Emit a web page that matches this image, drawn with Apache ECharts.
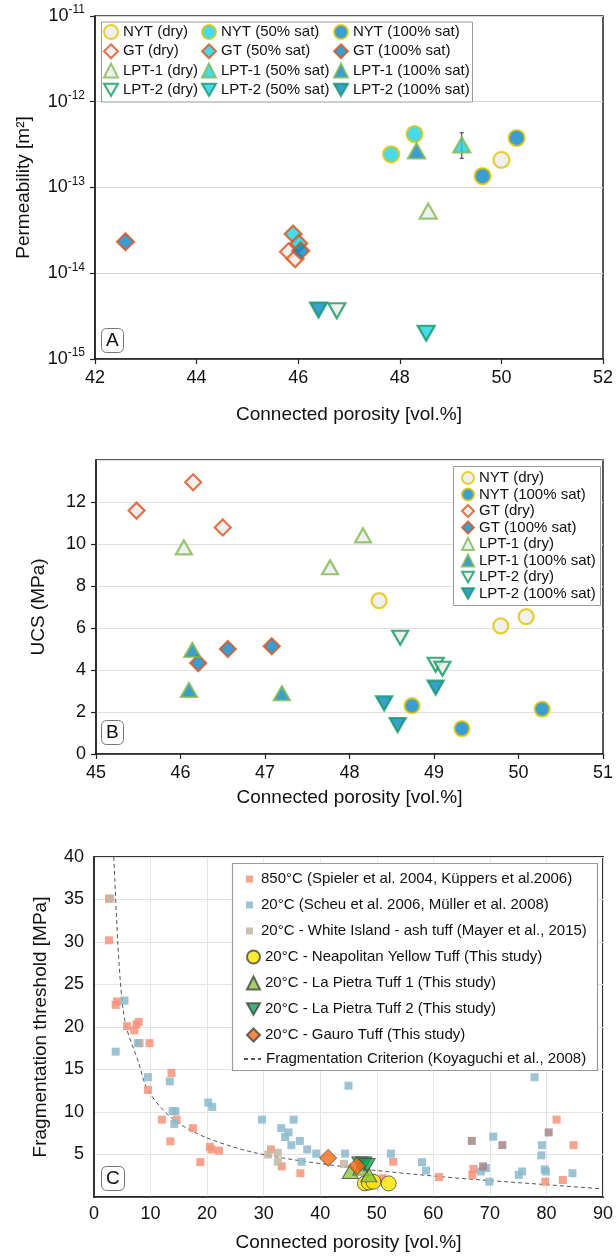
<!DOCTYPE html>
<html>
<head>
<meta charset="utf-8">
<script src="https://cdn.jsdelivr.net/npm/echarts@6/dist/echarts.min.js"></script>
<style>
  html, body { margin: 0; padding: 0; background: #fff; }
  #chart { width: 616px; height: 1258px; }
</style>
</head>
<body>
<div id="chart"></div>
<script>
// ---- panel A : permeability vs porosity ----
const aNytDry = [[50.0, 2.1e-13]];
const aNyt50 = [[47.83, 2.44e-13], [48.29, 4.2e-13]];
const aNyt100 = [[49.63, 1.36e-13], [50.30, 3.78e-13]];
const aGtDry = [[45.81, 1.78e-14], [45.94, 1.48e-14]];
const aGt50 = [[45.90, 2.87e-14], [46.01, 2.23e-14]];
const aGt100 = [[42.60, 2.33e-14], [46.05, 1.83e-14]];
const aLpt1Dry = [[48.56, 5.3e-14]];
const aLpt150 = [[49.22, 3.13e-13]];
const aLpt1100 = [[48.33, 2.67e-13]];
const aLpt2Dry = [[46.76, 3.66e-15]];
const aLpt250 = [[48.52, 2.0e-15]];
const aLpt2100 = [[46.40, 3.73e-15]];
const aLpt150Err = [[49.22, 2.19e-13, 4.35e-13]]; // x, low, high

// ---- panel B : UCS vs porosity ----
const bNytDry = [[48.35, 7.3], [49.79, 6.1], [50.09, 6.54]];
const bNyt100 = [[48.74, 2.3], [49.33, 1.21], [50.28, 2.14]];
const bGtDry = [[45.48, 11.59], [46.15, 12.94], [46.50, 10.79]];
const bGt100 = [[46.56, 5.0], [46.21, 4.33], [47.08, 5.13]];
const bLpt1Dry = [[46.04, 9.84], [48.16, 10.41], [47.77, 8.89]];
const bLpt1100 = [[46.14, 4.95], [46.10, 3.05], [47.20, 2.89]];
const bLpt2Dry = [[48.60, 5.54], [49.02, 4.25], [49.10, 4.06]];
const bLpt2100 = [[48.41, 2.41], [48.57, 1.38], [49.02, 3.16]];

// ---- panel C : fragmentation threshold vs porosity ----
const c850 = [[2.65, 35.1], [2.65, 30.2], [4.06, 23.0], [3.83, 22.6], [5.83, 20.1], [7.13, 19.6], [7.5, 20.3],
  [7.9, 20.6], [8.06, 18.1], [9.83, 18.1], [9.53, 12.6], [13.7, 14.6], [12.0, 9.1], [14.6, 9.1], [17.5, 8.1],
  [13.5, 6.55], [20.5, 5.9], [20.8, 5.6], [22.1, 5.45], [18.8, 4.1], [31.3, 5.6], [33.2, 3.6], [36.5, 2.8],
  [52.9, 4.15], [51.0, 2.2], [61.0, 2.35], [67.1, 3.3], [66.9, 2.6], [79.8, 1.8], [82.9, 2.0], [81.8, 9.1], [84.8, 6.1]];
const c20 = [[5.4, 23.1], [7.76, 18.1], [3.83, 17.1], [9.53, 14.1], [13.4, 13.6], [13.9, 10.1], [14.4, 10.1],
  [14.2, 8.6], [20.2, 11.1], [20.9, 10.6], [45.0, 13.1], [29.7, 9.1], [35.3, 9.1], [33.1, 8.1], [34.4, 7.6],
  [33.8, 7.06], [36.4, 6.6], [34.9, 6.1], [37.7, 5.6], [39.3, 5.1], [44.4, 5.1], [36.7, 4.15], [52.5, 5.1],
  [58.0, 4.1], [58.7, 3.1], [77.9, 14.1], [70.6, 7.1], [79.2, 6.1], [79.1, 4.9], [68.4, 3.0], [69.3, 3.4],
  [69.9, 1.8], [75.1, 2.6], [75.7, 3.0], [79.7, 3.25], [79.9, 3.0], [84.6, 2.8]];
const cWhite = [[2.9, 35.1], [30.8, 5.0], [32.5, 5.2], [32.5, 4.15], [44.2, 3.9]];
const cOther = [[66.8, 6.6], [72.2, 6.1], [80.4, 7.6], [68.8, 3.6]];
const cNyt = [[47.9, 1.6], [48.6, 1.7], [49.4, 1.8], [52.1, 1.6]];
const cLpt1 = [[45.3, 3.0], [47.2, 3.4], [48.6, 2.6]];
const cLpt2 = [[47.0, 3.9], [47.7, 3.9], [48.3, 3.7]];
const cGauro = [[41.4, 4.6], [46.5, 3.65]];
const cCriterion = [[3.5, 40], [4.2, 30], [4.9, 23.5], [5.7, 20], [7.8, 16], [9.5, 12.6], [13.9, 9.2],
  [19.8, 7.0], [29.2, 5.1], [45, 3.5], [62, 2.35], [80, 1.45], [90, 0.95]];

const FONT = 'Liberation Sans, Arial, sans-serif';
const INK = '#111';

// fills / borders
const DRY = '#ececec', SAT50 = '#1dd0e2', SAT100 = '#0a86c6';
const NYT_B = '#e2c400', GT_B = '#d9541e', L1_B = '#7db950', L2_B = '#0e9a62';
const DOWN = 'path://M0,0L12,0L6,10.5Z';

function pt(name, data, symbol, fill, border, idx, size, rotate) {
  return {
    name: name, type: 'scatter', xAxisIndex: idx, yAxisIndex: idx,
    data: data, symbol: symbol, symbolSize: size, symbolRotate: rotate || 0,
    itemStyle: { color: fill, borderColor: border, borderWidth: 2.2 },
    z: 3
  };
}

function sq(name, data, color) {
  return {
    name: name, type: 'scatter', xAxisIndex: 2, yAxisIndex: 2, data: data,
    symbol: 'rect', symbolSize: 8,
    itemStyle: { color: color, opacity: 0.85 }, z: 2
  };
}

// legend entries; the down-pointing triangles get their own icon
function items(names) {
  return names.map(n => (n.indexOf('LPT-2') >= 0 || n.indexOf('Tuff 2') >= 0)
    ? { name: n, icon: DOWN } : { name: n });
}

function baseX(idx, min, max, step, gap, grid) {
  return {
    gridIndex: idx, type: 'value', min: min, max: max, interval: step,
    name: 'Connected porosity [vol.%]', nameLocation: 'middle', nameGap: gap,
    nameTextStyle: { fontFamily: FONT, fontSize: 19, color: INK },
    axisLine: { show: true, onZero: false, lineStyle: { color: '#222', width: 1.5 } },
    axisTick: { show: !grid, length: 5, lineStyle: { color: '#222', width: 1.2 } },
    axisLabel: { fontFamily: FONT, fontSize: 18, color: INK, margin: grid ? 8 : 10 },
    splitLine: { show: grid, lineStyle: { color: '#e4e4e4' } }
  };
}

const chart = echarts.init(document.getElementById('chart'));

const legendText = { fontFamily: FONT, fontSize: 15, color: INK, lineHeight: 16 };

const option = {
  animation: false,
  backgroundColor: '#fff',
  title: [
    { text: 'A', left: 101, top: 328 },
    { text: 'B', left: 101, top: 720 },
    { text: 'C', left: 101, top: 1166 }
  ].map(t => Object.assign(t, {
    padding: [3, 5], borderColor: '#777', borderWidth: 1, borderRadius: 5, backgroundColor: '#fff',
    textStyle: { fontFamily: FONT, fontSize: 19, fontWeight: 'normal', color: INK }
  })),
  grid: [
    { left: 95, top: 16, width: 509, height: 343, show: true, borderColor: '#222', borderWidth: 1.5 },
    { left: 96, top: 460, width: 508, height: 294, show: true, borderColor: '#222', borderWidth: 1.5 },
    { left: 94, top: 857, width: 510, height: 340, show: true, borderColor: '#333', borderWidth: 2 }
  ],
  xAxis: [
    baseX(0, 42, 52, 2, 46, false),
    baseX(1, 45, 51, 1, 34, false),
    baseX(2, 0, 90, 10, 36, true)
  ],
  yAxis: [
    {
      gridIndex: 0, type: 'log', logBase: 10, min: 1e-15, max: 1e-11, splitNumber: 4,
      name: 'Permeability [m²]', nameLocation: 'middle', nameGap: 62,
      nameTextStyle: { fontFamily: FONT, fontSize: 19, color: INK },
      axisLine: { show: true, lineStyle: { color: '#222', width: 1.5 } },
      axisTick: { show: true, length: 5, lineStyle: { color: '#222', width: 1.2 } },
      minorTick: { show: false },
      axisLabel: {
        margin: 10, color: INK,
        formatter: v => '{b|10}{s|' + Math.round(Math.log10(v)) + '}',
        rich: {
          b: { fontFamily: FONT, fontSize: 18, color: INK, lineHeight: 24 },
          s: { fontFamily: FONT, fontSize: 12, color: INK, verticalAlign: 'top' }
        }
      },
      splitLine: { show: true, lineStyle: { color: '#d6d6d6', width: 1 } }
    },
    {
      gridIndex: 1, type: 'value', min: 0, max: 14, interval: 2,
      name: 'UCS (MPa)', nameLocation: 'middle', nameGap: 48,
      nameTextStyle: { fontFamily: FONT, fontSize: 19, color: INK },
      axisLine: { show: true, lineStyle: { color: '#222', width: 1.5 } },
      axisTick: { show: true, length: 5, lineStyle: { color: '#222', width: 1.2 } },
      axisLabel: { fontFamily: FONT, fontSize: 18, color: INK, margin: 10, showMaxLabel: false },
      splitLine: { show: true, lineStyle: { color: '#e0e0e0', width: 1 } }
    },
    {
      gridIndex: 2, type: 'value', min: 0, max: 40, interval: 5,
      name: 'Fragmentation threshold [MPa]', nameLocation: 'middle', nameGap: 44,
      nameTextStyle: { fontFamily: FONT, fontSize: 19, color: INK },
      axisLine: { show: true, lineStyle: { color: '#333', width: 2 } },
      axisTick: { show: false },
      axisLabel: { fontFamily: FONT, fontSize: 18, color: INK, margin: 10, showMinLabel: false },
      splitLine: { show: true, lineStyle: { color: '#e4e4e4', width: 1 } }
    }
  ],
  graphic: [
    { type: 'rect', z: 50, shape: { x: 101.5, y: 22, width: 371, height: 80 }, style: { fill: '#fff', stroke: '#9a9a9a', lineWidth: 1 } },
    { type: 'rect', z: 50, shape: { x: 453.5, y: 466.5, width: 147, height: 139 }, style: { fill: '#fff', stroke: '#9a9a9a', lineWidth: 1 } },
    { type: 'rect', z: 50, shape: { x: 232.5, y: 863.5, width: 365, height: 207 }, style: { fill: '#fff', stroke: '#9a9a9a', lineWidth: 1.2 } }
  ],
  legend: [
    // panel A, three columns
    { data: items(['NYT (dry)', 'GT (dry)', 'LPT-1 (dry)', 'LPT-2 (dry)']), left: 103, top: 24 },
    { data: items(['NYT (50% sat)', 'GT (50% sat)', 'LPT-1 (50% sat)', 'LPT-2 (50% sat)']), left: 201, top: 24 },
    { data: items(['NYT (100% sat)', 'GT (100% sat)', 'LPT-1 (100% sat)', 'LPT-2 (100% sat)']), left: 333, top: 24 }
  ].map(l => Object.assign(l, {
    orient: 'vertical', padding: 0, itemGap: 3.3, itemWidth: 14, itemHeight: 14, z: 60,
    textStyle: legendText, selectedMode: false
  })).concat([
    // panel B
    {
      data: items(['NYT (dry)', 'NYT (100% sat)', 'GT (dry)', 'GT (100% sat)', 'LPT-1 (dry)', 'LPT-1 (100% sat)', 'LPT-2 (dry)', 'LPT-2 (100% sat)']),
      left: 461, top: 470, orient: 'vertical', padding: 0, itemGap: 0.5, itemWidth: 12, itemHeight: 12, z: 60,
      textStyle: legendText, selectedMode: false
    },
    // panel C
    {
      data: ['850°C (Spieler et al. 2004, Küppers et al.2006)', '20°C (Scheu et al. 2006, Müller et al. 2008)', '20°C - White Island - ash tuff (Mayer et al., 2015)'],
      left: 246, top: 871, orient: 'vertical', padding: 0, itemGap: 10, itemWidth: 13, itemHeight: 7, z: 60,
      icon: 'path://M0,0h10v10h-10z', textStyle: legendText, selectedMode: false
    },
    {
      data: items(['20°C - Neapolitan Yellow Tuff (This study)', '20°C - La Pietra Tuff 1 (This study)', '20°C - La Pietra Tuff 2 (This study)', '20°C - Gauro Tuff (This study)']),
      left: 246, top: 949, orient: 'vertical', padding: 0, itemGap: 10, itemWidth: 13, itemHeight: 13, z: 60,
      textStyle: legendText, selectedMode: false
    },
    {
      data: [{ name: 'Fragmentation Criterion (Koyaguchi et al., 2008)', itemStyle: { opacity: 0 } }],
      left: 243, top: 1051, orient: 'vertical', padding: 0, itemWidth: 17, itemHeight: 10, z: 60,
      textStyle: legendText, selectedMode: false
    }
  ]),
  series: [
    // panel A
    {
      type: 'custom', xAxisIndex: 0, yAxisIndex: 0, data: aLpt150Err, z: 1,
      encode: { x: 0, y: [1, 2] },
      renderItem: function (params, api) {
        const x = api.value(0);
        const lo = api.coord([x, api.value(1)]);
        const hi = api.coord([x, api.value(2)]);
        const st = { stroke: '#333', lineWidth: 1 };
        return {
          type: 'group', children: [
            { type: 'line', shape: { x1: lo[0], y1: lo[1], x2: hi[0], y2: hi[1] }, style: st },
            { type: 'line', shape: { x1: lo[0] - 2, y1: lo[1], x2: lo[0] + 2, y2: lo[1] }, style: st },
            { type: 'line', shape: { x1: hi[0] - 2, y1: hi[1], x2: hi[0] + 2, y2: hi[1] }, style: st }
          ]
        };
      }
    },
    pt('NYT (dry)', aNytDry, 'circle', DRY, NYT_B, 0, 16),
    pt('NYT (50% sat)', aNyt50, 'circle', SAT50, NYT_B, 0, 16),
    pt('NYT (100% sat)', aNyt100, 'circle', SAT100, NYT_B, 0, 16),
    pt('GT (50% sat)', aGt50, 'diamond', SAT50, GT_B, 0, 17),
    pt('GT (dry)', aGtDry, 'diamond', DRY, GT_B, 0, 17),
    pt('GT (100% sat)', aGt100, 'diamond', SAT100, GT_B, 0, 17),
    pt('LPT-1 (dry)', aLpt1Dry, 'triangle', DRY, L1_B, 0, [17, 15]),
    pt('LPT-1 (50% sat)', aLpt150, 'triangle', SAT50, L1_B, 0, [17, 15]),
    pt('LPT-1 (100% sat)', aLpt1100, 'triangle', SAT100, L1_B, 0, [17, 15]),
    pt('LPT-2 (dry)', aLpt2Dry, 'triangle', DRY, L2_B, 0, [17, 15], 180),
    pt('LPT-2 (50% sat)', aLpt250, 'triangle', SAT50, L2_B, 0, [17, 15], 180),
    pt('LPT-2 (100% sat)', aLpt2100, 'triangle', SAT100, L2_B, 0, [17, 15], 180),
    // panel B
    pt('NYT (dry)', bNytDry, 'circle', DRY, NYT_B, 1, 15),
    pt('NYT (100% sat)', bNyt100, 'circle', SAT100, NYT_B, 1, 15),
    pt('GT (dry)', bGtDry, 'diamond', DRY, GT_B, 1, 16),
    pt('GT (100% sat)', bGt100, 'diamond', SAT100, GT_B, 1, 16),
    pt('LPT-1 (dry)', bLpt1Dry, 'triangle', DRY, L1_B, 1, [16, 14]),
    pt('LPT-1 (100% sat)', bLpt1100, 'triangle', SAT100, L1_B, 1, [16, 14]),
    pt('LPT-2 (dry)', bLpt2Dry, 'triangle', DRY, L2_B, 1, [16, 14], 180),
    pt('LPT-2 (100% sat)', bLpt2100, 'triangle', SAT100, L2_B, 1, [16, 14], 180),
    // panel C
    sq('850°C (Spieler et al. 2004, Küppers et al.2006)', c850, '#f7937a'),
    sq('20°C (Scheu et al. 2006, Müller et al. 2008)', c20, '#8bbacd'),
    sq('20°C - White Island - ash tuff (Mayer et al., 2015)', cWhite, '#c2b6a2'),
    sq('other', cOther, '#a4858a'),
    {
      name: 'Fragmentation Criterion (Koyaguchi et al., 2008)', type: 'line', xAxisIndex: 2, yAxisIndex: 2,
      data: cCriterion, smooth: 0.3, symbol: 'none', z: 2,
      lineStyle: { color: '#555', width: 1, type: [4, 3] }, itemStyle: { color: '#555' }
    },
    {
      name: '20°C - Neapolitan Yellow Tuff (This study)', type: 'scatter', xAxisIndex: 2, yAxisIndex: 2,
      data: cNyt, symbol: 'circle', symbolSize: 15, z: 4,
      itemStyle: { color: '#ffe500', borderColor: '#444', borderWidth: 1 }
    },
    {
      name: '20°C - La Pietra Tuff 1 (This study)', type: 'scatter', xAxisIndex: 2, yAxisIndex: 2,
      data: cLpt1, symbol: 'triangle', symbolSize: [16, 14], z: 4,
      itemStyle: { color: '#8cc540', borderColor: '#444', borderWidth: 1 }
    },
    {
      name: '20°C - La Pietra Tuff 2 (This study)', type: 'scatter', xAxisIndex: 2, yAxisIndex: 2,
      data: cLpt2, symbol: 'triangle', symbolRotate: 180, symbolSize: [16, 14], z: 4,
      itemStyle: { color: '#0ca550', borderColor: '#444', borderWidth: 1 }
    },
    {
      name: '20°C - Gauro Tuff (This study)', type: 'scatter', xAxisIndex: 2, yAxisIndex: 2,
      data: cGauro, symbol: 'diamond', symbolSize: 17, z: 4,
      itemStyle: { color: '#ff6a10', borderColor: '#444', borderWidth: 1 }
    }
  ]
};

chart.setOption(option);
</script>
</body>
</html>
